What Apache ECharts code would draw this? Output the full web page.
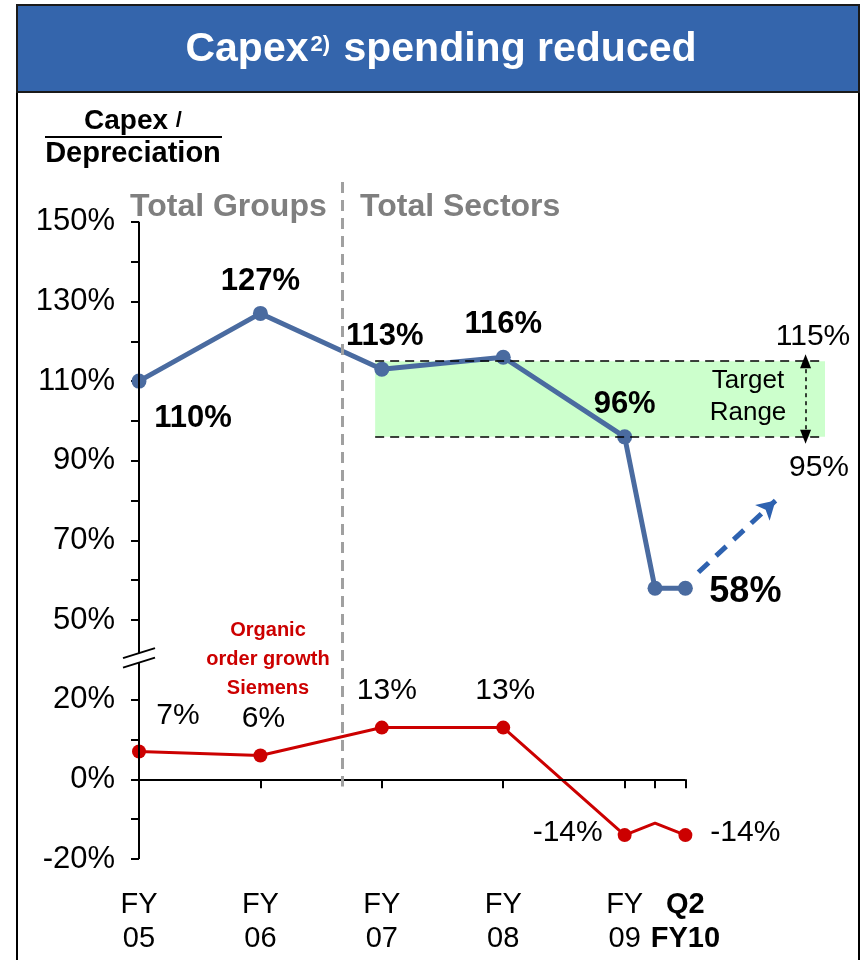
<!DOCTYPE html>
<html lang="en">
<head>
    <meta charset="UTF-8">
    <title>Capex spending reduced</title>
    <script src="https://cdn.jsdelivr.net/npm/echarts@6/dist/echarts.min.js"></script>
    <style>
        html, body { margin: 0; padding: 0; background: #fff; }
        #main { width: 861px; height: 960px; }
    </style>
</head>
<body>
    <div id="main"></div>
    <script>
        // x 轴按季度计：FY05 = 0，每财年 4 个季度
        const xTicks = [4, 8, 12, 16, 17, 18];
        const xLabelPos = [0, 4, 8, 12, 16, 18];
        const xLabels = ['FY\n05', 'FY\n06', 'FY\n07', 'FY\n08', 'FY\n09', 'Q2\nFY10'];

        // Capex / Depreciation
        const capexX = [0, 4, 8, 12, 16, 17, 18];
        const capexVals = [110, 127, 113, 116, 96, 58, 58];

        // Organic order growth Siemens
        const orderX = [0, 2, 4, 8, 12, 16, 17, 18];
        const orderVals = [7, 6.5, 6, 13, 13, -14, -11, -14];
        const orderDots = [1, 0, 1, 1, 1, 1, 0, 1];

        // 目标区间，分隔线，趋势箭头
        const targetRange = [96, 115];
        const targetFrom = 7.78;
        const dividerX = 6.7;
        const trendFrom = [18.43, 62];
        const trendTo = [20.97, 80];

        // y 轴刻度（真实值）
        const yLabelVals = [-20, 0, 20, 50, 70, 90, 110, 130, 150];
        const yTickVals = [-20, -10, 0, 10, 20, 50, 60, 70, 80, 90, 100, 110, 120, 130, 140, 150];

        // 轴断开：50% 以上的值整体下移 10
        function toAxis(v) { return v >= 35 ? v - 10 : v; }
        function fromAxis(v) { return v >= 40 ? v + 10 : v; }
        const breakLow = 29.3, breakHigh = 31.7;   // 轴线断开处（轴坐标）
        const X_MAX = 22.6;

        const FONT = '"Liberation Sans", Arial, sans-serif';
        const BLUE = '#4A6BA0';
        const RED = '#CC0000';

        // 数据标签位置（相对于点的偏移）
        const capexLabelOff = [[54, 37], [0, -32], [3, -33], [0, -33], [0, -32], null, [60, 4]];
        const capexLabelSize = [31, 31, 31, 31, 31, 0, 36];
        const orderLabelOff = [[39, -36], null, [3, -37], [5, -37], [2, -37], [-57, -2], null, [60, -2]];

        let capexData = capexX.map((x, i) => ({
            value: [x, toAxis(capexVals[i]), capexVals[i]],
            label: capexLabelOff[i] ? {
                show: true, position: 'inside', offset: capexLabelOff[i],
                fontSize: capexLabelSize[i], fontWeight: 'bold', color: '#000', fontFamily: FONT,
                formatter: p => p.value[2] + '%'
            } : { show: false }
        }));

        let orderData = orderX.map((x, i) => ({
            value: [x, toAxis(orderVals[i]), orderVals[i]],
            symbol: orderDots[i] ? 'circle' : 'none',
            label: orderLabelOff[i] ? {
                show: true, position: 'inside', offset: orderLabelOff[i],
                fontSize: 30, color: '#000', fontFamily: FONT,
                formatter: p => p.value[2] + '%'
            } : { show: false }
        }));

        const axisLineStyle = { color: '#000', width: 2, type: 'solid' };
        const boxLineStyle = { color: '#000', width: 1.5, type: [9, 6] };

        let myChart = echarts.init(document.getElementById('main'));

        let option = {
            animation: false,
            grid: { left: 139, right: 36, top: 182, bottom: 101, outerBoundsMode: 'none', containLabel: false },
            xAxis: {
                type: 'value',
                min: 0,
                max: X_MAX,
                splitLine: { show: false },
                axisLine: { show: false, onZero: true },
                axisTick: {
                    show: true, customValues: xTicks, length: 9,
                    lineStyle: { color: '#000', width: 2 }
                },
                axisLabel: {
                    customValues: xLabelPos,
                    margin: 29,
                    fontSize: 29,
                    lineHeight: 34,
                    color: '#000',
                    fontFamily: FONT,
                    formatter: function (v) {
                        let i = xLabelPos.indexOf(v);
                        if (i < 0) return '';
                        if (i === xLabels.length - 1) {
                            return xLabels[i].split('\n').map(s => '{b|' + s + '}').join('\n');
                        }
                        return xLabels[i];
                    },
                    rich: {
                        b: { fontSize: 29, fontWeight: 'bold', lineHeight: 34, color: '#000', fontFamily: FONT }
                    }
                }
            },
            yAxis: {
                type: 'value',
                min: -20,
                max: 150,
                splitLine: { show: false },
                axisLine: { show: false, onZero: false },
                axisTick: {
                    show: true, customValues: yTickVals.map(toAxis), length: 8,
                    lineStyle: { color: '#000', width: 2 }
                },
                axisLabel: {
                    customValues: yLabelVals.map(toAxis),
                    margin: 24,
                    fontSize: 31,
                    color: '#000',
                    fontFamily: FONT,
                    formatter: v => fromAxis(v) + '%'
                }
            },
            series: [
                {
                    name: 'Organic order growth Siemens',
                    type: 'line',
                    data: orderData,
                    symbol: 'circle',
                    symbolSize: 14,
                    lineStyle: { color: RED, width: 3 },
                    itemStyle: { color: RED },
                    z: 3,
                    markLine: {
                        silent: true,
                        symbol: 'none',
                        label: { show: false },
                        data: [
                            // 0% 横轴线
                            [{ coord: [0, 0], lineStyle: axisLineStyle }, { coord: [18, 0] }],
                            // y 轴线（断开）
                            [{ coord: [0, -20], lineStyle: axisLineStyle }, { coord: [0, breakLow] }],
                            [{ coord: [0, breakHigh], lineStyle: axisLineStyle }, { coord: [0, toAxis(150)] }],
                            // Total Groups / Total Sectors 分隔线
                            [{ coord: [dividerX, 150], lineStyle: { color: '#A0A0A0', width: 3, type: [11, 7] } },
                             { coord: [dividerX, -1.8] }]
                        ]
                    }
                },
                {
                    name: 'Capex / Depreciation',
                    type: 'line',
                    data: capexData,
                    symbol: 'circle',
                    symbolSize: 15,
                    lineStyle: { color: BLUE, width: 5 },
                    itemStyle: { color: BLUE },
                    z: 4,
                    markArea: {
                        silent: true,
                        itemStyle: { color: '#CCFFCC' },
                        data: [[{ coord: [targetFrom, toAxis(targetRange[1])] },
                                { coord: [X_MAX, toAxis(targetRange[0])] }]]
                    },
                    markLine: {
                        silent: true,
                        symbol: 'none',
                        label: { show: false },
                        data: [
                            [{ coord: [targetFrom, toAxis(targetRange[1])], lineStyle: boxLineStyle },
                             { coord: [X_MAX, toAxis(targetRange[1])] }],
                            [{ coord: [targetFrom, toAxis(targetRange[0])], lineStyle: boxLineStyle },
                             { coord: [X_MAX, toAxis(targetRange[0])] }],
                            // 目标区间双向箭头
                            [{ coord: [21.96, toAxis(targetRange[1])], symbol: 'triangle', symbolSize: [11, 14],
                               lineStyle: { color: '#000', width: 1.5, type: [4, 4] }, itemStyle: { color: '#000' } },
                             { coord: [21.96, toAxis(targetRange[0])], symbol: 'triangle', symbolSize: [11, 14], itemStyle: { color: '#000' } }],
                            // 回升趋势箭头
                            [{ coord: [trendFrom[0], toAxis(trendFrom[1])], symbol: 'none',
                               lineStyle: { color: '#2E62B0', width: 5, type: [14, 10] } },
                             { coord: [trendTo[0], toAxis(trendTo[1])], symbol: 'arrow', symbolSize: [16, 18], itemStyle: { color: '#2E62B0' } }]
                        ]
                    }
                }
            ]
        };
        myChart.setOption(option);

        // 断轴标记位置
        let pLow = myChart.convertToPixel({ gridIndex: 0 }, [0, breakLow]);
        let pHigh = myChart.convertToPixel({ gridIndex: 0 }, [0, breakHigh]);

        myChart.setOption({
            graphic: [
                // 外框与标题栏
                { type: 'rect', shape: { x: 17, y: 5, width: 842, height: 960 },
                  style: { fill: 'none', stroke: '#000', lineWidth: 2 }, z: 0 },
                { type: 'rect', shape: { x: 17, y: 5, width: 842, height: 87 },
                  style: { fill: '#3465AC', stroke: '#1a1a1a', lineWidth: 2 }, z: 1 },
                { type: 'text', x: 441, y: 50, z: 2,
                  style: {
                      text: '{a|Capex}{s|2)}{a| spending reduced}',
                      textAlign: 'center', textVerticalAlign: 'middle',
                      rich: {
                          a: { fontSize: 41, fontWeight: 'bold', fill: '#fff', fontFamily: FONT, lineHeight: 44 },
                          s: { fontSize: 22, fontWeight: 'bold', fill: '#fff', fontFamily: FONT, verticalAlign: 'top',
                               lineHeight: 24, padding: [6, 2, 0, 2] }
                      }
                  } },
                // y 轴名称
                { type: 'text', x: 133, y: 121, z: 2,
                  style: { text: '{a|Capex }{b|/}', textAlign: 'center', textVerticalAlign: 'middle',
                           rich: { a: { fontSize: 28, fontWeight: 'bold', fill: '#000', fontFamily: FONT },
                                   b: { fontSize: 22, fontWeight: 'bold', fill: '#000', fontFamily: FONT } } } },
                { type: 'line', shape: { x1: 45, y1: 137, x2: 222, y2: 137 }, style: { stroke: '#000', lineWidth: 2 }, z: 2 },
                { type: 'text', x: 133, y: 154, z: 2,
                  style: { text: 'Depreciation', textAlign: 'center', textVerticalAlign: 'middle',
                           font: 'bold 29px ' + FONT, fill: '#000' } },
                // 区块标题
                { type: 'text', x: 130, y: 207, z: 2,
                  style: { text: 'Total Groups', textAlign: 'left', textVerticalAlign: 'middle',
                           font: 'bold 32px ' + FONT, fill: '#7F7F7F' } },
                { type: 'text', x: 360, y: 207, z: 2,
                  style: { text: 'Total Sectors', textAlign: 'left', textVerticalAlign: 'middle',
                           font: 'bold 32px ' + FONT, fill: '#7F7F7F' } },
                { type: 'text', x: 268, y: 659, z: 5,
                  style: { text: 'Organic\norder growth\nSiemens', textAlign: 'center', textVerticalAlign: 'middle',
                           font: 'bold 20px ' + FONT, lineHeight: 29, fill: RED } },
                // 目标区间文字
                { type: 'text', x: 813, y: 337, z: 5,
                  style: { text: '115%', textAlign: 'center', textVerticalAlign: 'middle', font: '30px ' + FONT, fill: '#000' } },
                { type: 'text', x: 819, y: 468, z: 5,
                  style: { text: '95%', textAlign: 'center', textVerticalAlign: 'middle', font: '30px ' + FONT, fill: '#000' } },
                { type: 'text', x: 748, y: 397, z: 5,
                  style: { text: 'Target\nRange', textAlign: 'center', textVerticalAlign: 'middle',
                           font: '26px ' + FONT, lineHeight: 32, fill: '#000' } },
                // 断轴标记
                { type: 'line', shape: { x1: pLow[0] - 16, y1: pLow[1] + 5, x2: pLow[0] + 16, y2: pLow[1] - 5 },
                  style: { stroke: '#000', lineWidth: 2 }, z: 11 },
                { type: 'line', shape: { x1: pHigh[0] - 16, y1: pHigh[1] + 5, x2: pHigh[0] + 16, y2: pHigh[1] - 5 },
                  style: { stroke: '#000', lineWidth: 2 }, z: 11 }
            ]
        });
    </script>
</body>
</html>
